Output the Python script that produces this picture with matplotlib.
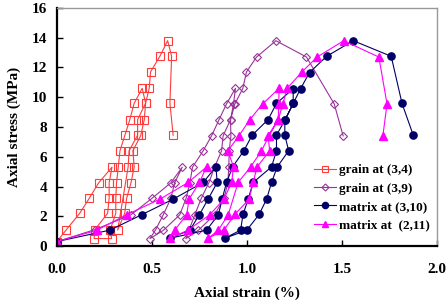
import matplotlib
matplotlib.use("Agg")
import matplotlib.pyplot as plt

# grain at (3,4) - loading / unloading cycles
red_x = [0.00, 0.05, 0.12, 0.17, 0.22, 0.29,
         0.275, 0.275, 0.267, 0.20, 0.196,
         0.288, 0.28, 0.31, 0.31, 0.314, 0.323, 0.332, 0.358, 0.384, 0.407, 0.449,
         0.467, 0.46, 0.442, 0.40, 0.407, 0.39, 0.367, 0.357, 0.32,
         0.375, 0.38, 0.425, 0.425, 0.467, 0.486, 0.493, 0.542, 0.583,
         0.604, 0.595, 0.612]
red_y = [0.3, 1.1, 2.2, 3.2, 4.25, 5.3,
         4.25, 3.2, 2.2, 1.1, 0.5,
         0.5, 1.07, 2.2, 3.2, 4.25, 5.3, 6.4, 7.45, 8.5, 9.6, 10.6,
         9.6, 8.5, 7.45, 6.4, 5.3, 4.25, 3.2, 2.2, 1.07,
         5.3, 6.4, 7.45, 8.5, 9.6, 10.6, 11.7, 12.75, 13.8,
         12.75, 9.6, 7.45]

# grain at (3,9)
pur_x = [0.00, 0.20, 0.39, 0.50, 0.60, 0.66,
         0.62, 0.60, 0.56, 0.52, 0.49,
         0.56, 0.647, 0.68, 0.70, 0.714, 0.77, 0.814, 0.854, 0.893, 0.94,
         0.93, 0.914, 0.875, 0.867, 0.83, 0.80, 0.76, 0.726, 0.679,
         0.744, 0.83, 0.88, 0.90, 0.905, 0.907, 0.916, 0.914, 0.937, 0.979,
         0.998, 1.051, 1.153, 1.314, 1.46, 1.507]
pur_y = [0.3, 1.1, 2.1, 3.2, 4.25, 5.3,
         4.25, 3.2, 2.1, 1.1, 0.5,
         1.05, 2.1, 3.2, 4.25, 5.3, 6.4, 7.4, 8.5, 9.55, 10.6,
         9.55, 8.5, 7.4, 6.4, 5.3, 4.25, 3.2, 2.1, 0.5,
         1.05, 2.1, 3.2, 4.25, 5.3, 6.4, 7.4, 8.5, 9.55, 10.6,
         11.7, 12.7, 13.8, 12.7, 9.55, 7.4]

# matrix at (3,10)
blu_x = [0.00, 0.28, 0.446, 0.612, 0.77, 0.837,
         0.844, 0.796, 0.75, 0.70, 0.595,
         0.788, 0.85, 0.87, 0.893, 0.925, 0.984, 1.028, 1.112, 1.156, 1.244,
         1.244, 1.20, 1.156, 1.156, 1.13, 1.033, 1.007, 0.98, 0.967, 0.884,
         1.0, 1.065, 1.104, 1.13, 1.16, 1.22, 1.2, 1.2, 1.244, 1.283,
         1.33, 1.42, 1.56, 1.76, 1.817, 1.876]
blu_y = [0.3, 1.07, 2.1, 3.15, 4.27, 5.32,
         4.27, 3.15, 2.1, 1.07, 0.52,
         1.07, 2.1, 3.15, 4.27, 5.32, 6.4, 7.45, 8.5, 9.58, 10.58,
         9.58, 8.45, 7.45, 6.4, 5.32, 4.27, 3.15, 2.13, 1.07, 0.52,
         1.07, 2.13, 3.15, 4.27, 5.32, 6.4, 7.45, 8.45, 9.58, 10.58,
         11.66, 12.75, 13.8, 12.75, 9.58, 7.45]

# matrix at (2,11)
mag_x = [0.00, 0.209, 0.367, 0.542, 0.691, 0.788,
         0.75, 0.696, 0.683, 0.62, 0.598,
         0.69, 0.805, 0.879, 0.92, 0.93, 0.90, 0.958, 1.016, 1.083, 1.17,
         1.168, 1.165, 1.117, 1.077, 1.02, 0.954, 0.902, 0.85, 0.797,
         0.879, 0.937, 1.012, 1.033, 1.054, 1.12, 1.112, 1.165, 1.19, 1.212,
         1.29, 1.37, 1.51, 1.695, 1.738, 1.716]
mag_y = [0.3, 1.05, 2.1, 3.15, 4.27, 5.32,
         4.27, 3.15, 2.1, 1.07, 0.52,
         1.07, 2.1, 3.15, 4.27, 5.32, 6.4, 7.4, 8.5, 9.55, 10.6,
         9.55, 8.5, 7.4, 6.4, 5.32, 4.27, 2.1, 1.07, 0.52,
         1.07, 2.13, 3.15, 4.27, 5.32, 6.4, 7.4, 8.5, 9.55, 10.6,
         11.7, 12.7, 13.8, 12.7, 9.55, 7.4]

labels = ["grain at (3,4)", "grain at (3,9)", "matrix at (3,10)", "matrix at  (2,11)"]

plt.rcParams["font.family"] = ["Liberation Serif", "DejaVu Serif"]
plt.rcParams["font.weight"] = "bold"

fig = plt.figure(figsize=(4.48, 3.06), dpi=100)
ax = fig.add_axes([0.127, 0.196, 0.848, 0.778])

ax.plot(red_x, red_y, "-s", color="#FF3B3B", lw=0.8, ms=5.2, mfc="none", mew=0.8, label=labels[0])
ax.plot(pur_x, pur_y, "-D", color="#993399", lw=0.8, ms=4.2, mfc="none", mew=0.8, label=labels[1])
ax.plot(blu_x, blu_y, "-o", color="#000066", lw=0.8, ms=5.2, label=labels[2])
ax.plot(mag_x, mag_y, "-^", color="#FF00FF", lw=0.8, ms=5.8, label=labels[3])

ax.set_xlim(0, 2.0)
ax.set_ylim(0, 16)
ax.set_xticks([0.0, 0.5, 1.0, 1.5, 2.0])
ax.set_xticklabels(["0.0", "0.5", "1.0", "1.5", "2.0"])
ax.set_yticks(range(0, 17, 2))
ax.tick_params(direction="in", length=4, width=1, labelsize=11, pad=7)
ax.tick_params(axis="x", pad=12)

for s in ("left", "bottom"):
    ax.spines[s].set_linewidth(1.6)
for s in ("top", "right"):
    ax.spines[s].set_color("#999999")
    ax.spines[s].set_linewidth(1.0)

ax.set_xlabel("Axial strain (%)", fontsize=11, fontweight="bold", labelpad=8)
ax.set_ylabel("Axial stress (MPa)", fontsize=11, fontweight="bold", labelpad=8)

leg = ax.legend(loc="lower left", bbox_to_anchor=(0.676, 0.062), frameon=False,
                borderaxespad=0, borderpad=0, handlelength=1.7, handletextpad=0.25,
                labelspacing=0.46, markerscale=0.85,
                prop={"weight": "bold", "size": 9.5})

fig.savefig("out.png", dpi=100)
